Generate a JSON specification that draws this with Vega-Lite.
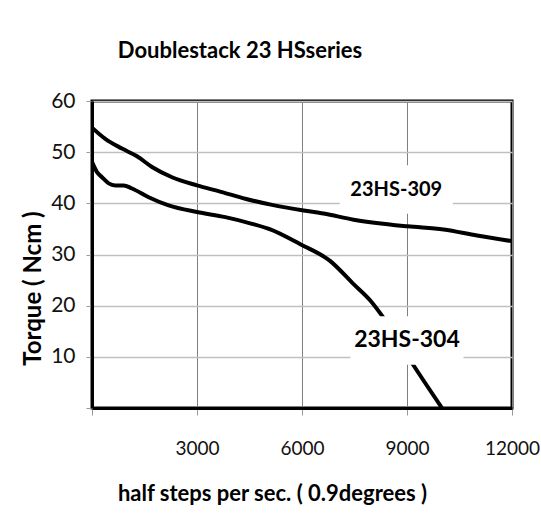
{
  "$schema": "https://vega.github.io/schema/vega-lite/v6.json",
  "width": 420,
  "height": 307,
  "autosize": {"type": "none"},
  "padding": {"left": 92, "top": 101, "right": 29, "bottom": 108},
  "background": "white",
  "title": {
    "text": "Doublestack 23 HSseries",
    "font": "Lato",
    "fontSize": 22,
    "fontWeight": "bold",
    "color": "black",
    "anchor": "middle",
    "dx": -62,
    "baseline": "alphabetic",
    "offset": 10
  },
  "config": {
    "view": {"stroke": "black", "strokeWidth": 3},
    "font": "Lato"
  },
  "datasets": {
    "curves": [
      {"model": "23HS-309", "speed": 0, "torque": 54.8},
      {"model": "23HS-309", "speed": 380, "torque": 52.6},
      {"model": "23HS-309", "speed": 857, "torque": 50.7},
      {"model": "23HS-309", "speed": 1286, "torque": 49.2},
      {"model": "23HS-309", "speed": 1714, "torque": 47.1},
      {"model": "23HS-309", "speed": 2286, "torque": 45.1},
      {"model": "23HS-309", "speed": 3000, "torque": 43.5},
      {"model": "23HS-309", "speed": 3714, "torque": 42.2},
      {"model": "23HS-309", "speed": 4380, "torque": 40.9},
      {"model": "23HS-309", "speed": 5143, "torque": 39.7},
      {"model": "23HS-309", "speed": 6046, "torque": 38.6},
      {"model": "23HS-309", "speed": 6617, "torque": 38.0},
      {"model": "23HS-309", "speed": 7474, "torque": 36.8},
      {"model": "23HS-309", "speed": 9017, "torque": 35.5},
      {"model": "23HS-309", "speed": 10046, "torque": 34.9},
      {"model": "23HS-309", "speed": 11000, "torque": 33.7},
      {"model": "23HS-309", "speed": 12000, "torque": 32.6},
      {"model": "23HS-304", "speed": 0, "torque": 48.1},
      {"model": "23HS-304", "speed": 143, "torque": 46.1},
      {"model": "23HS-304", "speed": 286, "torque": 45.1},
      {"model": "23HS-304", "speed": 476, "torque": 43.9},
      {"model": "23HS-304", "speed": 666, "torque": 43.5},
      {"model": "23HS-304", "speed": 904, "torque": 43.5},
      {"model": "23HS-304", "speed": 1143, "torque": 42.9},
      {"model": "23HS-304", "speed": 1619, "torque": 41.2},
      {"model": "23HS-304", "speed": 2190, "torque": 39.6},
      {"model": "23HS-304", "speed": 3000, "torque": 38.3},
      {"model": "23HS-304", "speed": 3809, "torque": 37.3},
      {"model": "23HS-304", "speed": 4571, "torque": 36.0},
      {"model": "23HS-304", "speed": 5094, "torque": 34.9},
      {"model": "23HS-304", "speed": 5951, "torque": 32.0},
      {"model": "23HS-304", "speed": 6809, "torque": 28.7},
      {"model": "23HS-304", "speed": 7474, "torque": 24.2},
      {"model": "23HS-304", "speed": 7951, "torque": 21.0},
      {"model": "23HS-304", "speed": 8331, "torque": 17.6},
      {"model": "23HS-304", "speed": 9171, "torque": 8.5},
      {"model": "23HS-304", "speed": 10000, "torque": 0}
    ],
    "labels": [
      {"label": "23HS-309", "speed": 8694, "torque": 42.7},
      {"label": "23HS-304", "speed": 9000, "torque": 13.2}
    ]
  },
  "layer": [
    {
      "data": {"name": "curves"},
      "mark": {"type": "line", "color": "black", "strokeWidth": 4, "clip": true, "interpolate": "monotone"},
      "encoding": {
        "x": {
          "field": "speed",
          "type": "quantitative",
          "scale": {"domain": [0, 12000], "nice": false, "zero": false},
          "axis": {
            "values": [0, 3000, 6000, 9000, 12000],
            "format": "d",
            "labelExpr": "datum.value == 0 ? '' : datum.label",
            "labelFlush": false,
            "labelOverlap": false,
            "title": "half steps per sec. ( 0.9degrees )",
            "grid": true,
            "gridColor": "#7f7f7f",
            "gridWidth": 1,
            "domainColor": "black",
            "domainWidth": 3,
            "tickColor": "#999999",
            "tickSize": 7,
            "tickWidth": 1,
            "labelFont": "Lato",
            "labelFontSize": 19,
            "labelColor": "#111111",
            "labelPadding": 24,
            "titleFont": "Lato",
            "titleFontSize": 22,
            "titleFontWeight": "bold",
            "titleColor": "black",
            "titleX": 180,
            "titleY": 92,
            "titleBaseline": "alphabetic",
            "titleAlign": "center"
          }
        },
        "y": {
          "field": "torque",
          "type": "quantitative",
          "scale": {"domain": [0, 60], "nice": false},
          "axis": {
            "values": [0, 10, 20, 30, 40, 50, 60],
            "labelExpr": "datum.value == 0 ? '' : datum.label",
            "labelOverlap": false,
            "labelFlush": false,
            "title": "Torque ( Ncm )",
            "grid": true,
            "gridColor": "#c0c0c0",
            "gridWidth": 1.5,
            "domainColor": "black",
            "domainWidth": 3,
            "tickColor": "#999999",
            "tickSize": 6,
            "tickWidth": 1,
            "labelFont": "Lato",
            "labelFontSize": 21,
            "labelColor": "#111111",
            "labelPadding": 11,
            "titleFont": "Lato",
            "titleFontSize": 24,
            "titleFontWeight": "bold",
            "titleColor": "black",
            "titleAngle": 270,
            "titleX": -52,
            "titleY": 187,
            "titleBaseline": "alphabetic",
            "titleAlign": "center"
          }
        },
        "detail": {"field": "model"}
      }
    },
    {
      "data": {"name": "labels"},
      "mark": {"type": "point", "shape": "M-1,-0.43H1V0.43H-1Z", "filled": true, "color": "white", "opacity": 1, "size": 12769},
      "encoding": {
        "x": {"field": "speed", "type": "quantitative"},
        "y": {"field": "torque", "type": "quantitative"}
      }
    },
    {
      "data": {"name": "labels"},
      "transform": [{"filter": "datum.label == '23HS-309'"}],
      "mark": {"type": "text", "font": "Lato", "fontSize": 20, "fontWeight": "bold", "color": "black", "baseline": "middle", "align": "center"},
      "encoding": {
        "x": {"field": "speed", "type": "quantitative"},
        "y": {"field": "torque", "type": "quantitative"},
        "text": {"field": "label"}
      }
    },
    {
      "data": {"name": "labels"},
      "transform": [{"filter": "datum.label == '23HS-304'"}],
      "mark": {"type": "text", "font": "Lato", "fontSize": 23, "fontWeight": "bold", "color": "black", "baseline": "middle", "align": "center"},
      "encoding": {
        "x": {"field": "speed", "type": "quantitative"},
        "y": {"field": "torque", "type": "quantitative"},
        "text": {"field": "label"}
      }
    }
  ]
}
